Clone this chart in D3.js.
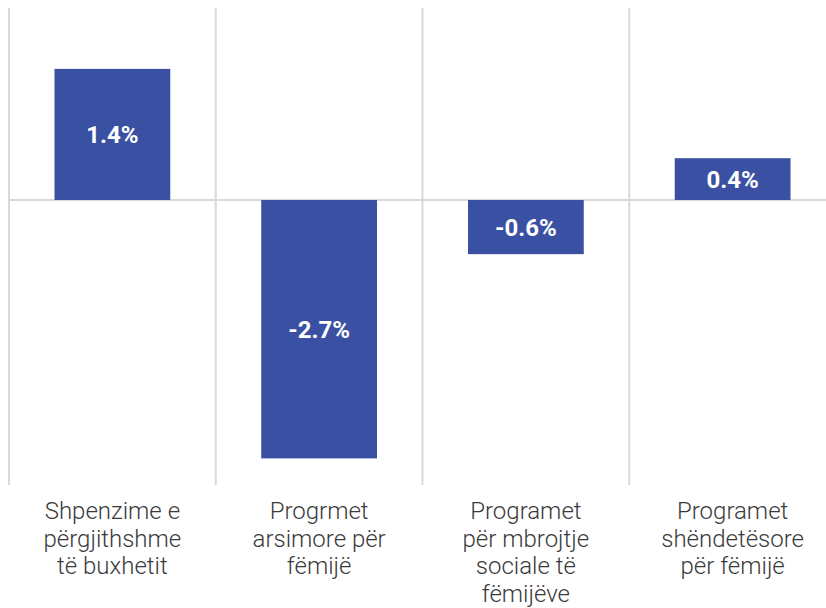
<!DOCTYPE html>
<html>
<head>
<meta charset="utf-8">
<script src="https://cdn.jsdelivr.net/npm/d3@7"></script>
<style>
  body { margin: 0; background: #fff; }
  svg { display: block; }
</style>
</head>
<body>
<div id="plot"></div>
<script>
// data (labels as printed)
var categories = [
  ['Shpenzime e', 'përgjithshme', 'të buxhetit'],
  ['Progrmet', 'arsimore për', 'fëmijë'],
  ['Programet', 'për mbrojtje', 'sociale të', 'fëmijëve'],
  ['Programet', 'shëndetësore', 'për fëmijë']
];
var values = [1.38, -2.72, -0.57, 0.44];
var valueLabels = ['1.4%', '-2.7%', '-0.6%', '0.4%'];

var width = 826, height = 608;

var svg = d3.select('#plot')
  .append('svg')
  .attr('width', width)
  .attr('height', height);

var idx = d3.range(values.length);

var x = d3.scaleBand()
  .domain(idx)
  .range([9, 836])
  .paddingInner(0)
  .paddingOuter(0);

var y = d3.scaleLinear()
  .domain([-3, 2])
  .range([485, 10]);

var barW = x.bandwidth() * 0.56;

// vertical separators
svg.selectAll('line.sep')
  .data(idx)
  .enter()
  .append('line')
  .attr('class', 'sep')
  .attr('x1', function(d){ return x(d); })
  .attr('x2', function(d){ return x(d); })
  .attr('y1', 8)
  .attr('y2', 485)
  .style('stroke', '#d9d9d9')
  .style('stroke-width', '2px');

// zero line
svg.append('line')
  .attr('x1', 9)
  .attr('x2', width)
  .attr('y1', y(0))
  .attr('y2', y(0))
  .style('stroke', '#d9d9d9')
  .style('stroke-width', '2px');

// bars
svg.selectAll('rect.bar')
  .data(idx)
  .enter()
  .append('rect')
  .attr('class', 'bar')
  .attr('x', function(d){ return x(d) + (x.bandwidth() - barW) / 2; })
  .attr('width', barW)
  .attr('y', function(d){ return y(Math.max(0, values[d])); })
  .attr('height', function(d){ return Math.abs(y(values[d]) - y(0)); })
  .style('fill', '#3a51a3');

// value labels
svg.selectAll('text.val')
  .data(idx)
  .enter()
  .append('text')
  .attr('class', 'val')
  .attr('x', function(d){ return x(d) + x.bandwidth() / 2; })
  .attr('y', function(d){ return (y(values[d]) + y(0)) / 2; })
  .attr('dy', '0.36em')
  .attr('text-anchor', 'middle')
  .style('font-family', 'Roboto, Arial, sans-serif')
  .style('font-weight', '700')
  .style('font-size', '24px')
  .style('fill', '#fff')
  .text(function(d){ return valueLabels[d]; });

// category labels
var cat = svg.selectAll('text.cat')
  .data(idx)
  .enter()
  .append('text')
  .attr('class', 'cat')
  .attr('x', function(d){ return x(d) + x.bandwidth() / 2; })
  .attr('y', 519)
  .attr('text-anchor', 'middle')
  .style('font-family', 'Roboto, Arial, sans-serif')
  .style('font-weight', '300')
  .style('font-size', '24px')
  .style('fill', '#3a3a3a');

cat.selectAll('tspan')
  .data(function(d){ return categories[d].map(function(t){ return { t: t, c: d }; }); })
  .enter()
  .append('tspan')
  .attr('x', function(o){ return x(o.c) + x.bandwidth() / 2; })
  .attr('dy', function(o, i){ return i === 0 ? 0 : 27.5; })
  .text(function(o){ return o.t; });
</script>
</body>
</html>
